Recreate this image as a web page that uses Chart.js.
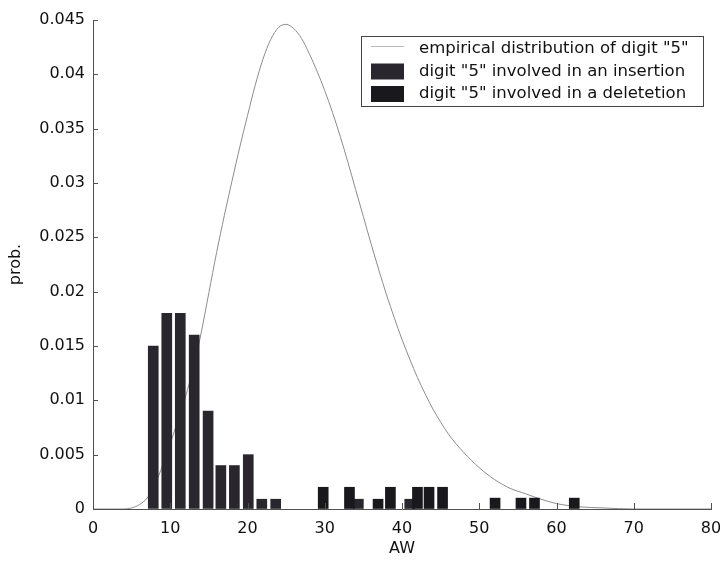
<!DOCTYPE html>
<html>
<head>
<meta charset="utf-8">
<title>AW distribution of digit "5"</title>
<script src="https://cdn.jsdelivr.net/npm/chart.js@4.4.1/dist/chart.umd.min.js"></script>
<style>
  html, body { margin: 0; padding: 0; background: #fff; }
  #wrap { width: 720px; height: 561px; position: relative; }
</style>
</head>
<body>
<div id="wrap"><canvas id="awChart"></canvas></div>
<script>
// Empirical distribution of digit "5" (AW value -> probability)
const curveX = [0, 2, 4, 5, 6, 7, 8, 9, 10, 11, 12, 13, 14, 15, 16, 17, 18, 19, 20,
  21, 22, 23, 24, 25, 26, 27, 28, 29, 30, 31, 32, 33, 34, 35, 36, 37, 38, 39, 40,
  41, 42, 43, 44, 45, 46, 47, 48, 50, 52, 54, 56, 58, 60, 63, 66, 70, 75, 80];
const curveY = [0, 0, 0, 0.0001, 0.0004, 0.001, 0.0022, 0.004, 0.006, 0.0082, 0.0104,
  0.013, 0.0162, 0.0199, 0.0236, 0.027, 0.0302, 0.0333, 0.0362, 0.039, 0.0414,
  0.0432, 0.0443, 0.0446, 0.0442, 0.0433, 0.0419, 0.0403, 0.0385, 0.0365, 0.0343,
  0.0319, 0.0294, 0.0269, 0.0244, 0.022, 0.0197, 0.0176, 0.0156, 0.0138, 0.0121,
  0.0106, 0.0092, 0.008, 0.0069, 0.006, 0.0052, 0.0038, 0.0027, 0.0019, 0.0014,
  0.0009, 0.0005, 0.0002, 0.0001, 0, 0, 0];

// Digit "5" involved in an insertion
const insertionX = [7.8, 9.55, 11.3, 13.1, 14.9, 16.55, 18.3, 20.1, 21.85, 23.65, 34.35, 41.0];
const insertionY = [0.015, 0.018, 0.018, 0.016, 0.009, 0.004, 0.004, 0.005, 0.0009, 0.0009, 0.0009, 0.0009];

// Digit "5" involved in a deletion
const deletionX = [29.8, 33.2, 36.9, 38.5, 42.0, 43.5, 45.25, 52.05, 55.4, 57.15, 62.3];
const deletionY = [0.002, 0.002, 0.0009, 0.002, 0.002, 0.002, 0.002, 0.001, 0.001, 0.001, 0.001];

// Axis ticks
const xTicks = [0, 10, 20, 30, 40, 50, 60, 70, 80];
const yTicks = [0, 0.005, 0.01, 0.015, 0.02, 0.025, 0.03, 0.035, 0.04, 0.045];

const labelFont = { family: "'DejaVu Sans', sans-serif", size: 16 };
const textColor = "#111";
const axisColor = "#505050";

function toPoints(xs, ys) {
  return xs.map((x, i) => ({ x: x, y: ys[i] }));
}

// Small tick marks pointing into the plot (MATLAB style)
const inwardTicks = {
  id: "inwardTicks",
  afterDatasetsDraw(chart) {
    const { ctx, chartArea, scales } = chart;
    ctx.save();
    ctx.strokeStyle = axisColor;
    ctx.lineWidth = 1;
    ctx.beginPath();
    scales.x.ticks.forEach((t) => {
      const px = Math.round(scales.x.getPixelForValue(t.value)) + 0.5;
      ctx.moveTo(px, chartArea.bottom);
      ctx.lineTo(px, chartArea.bottom - 6);
    });
    scales.y.ticks.forEach((t) => {
      const py = Math.round(scales.y.getPixelForValue(t.value)) + 0.5;
      ctx.moveTo(chartArea.left, py);
      ctx.lineTo(chartArea.left + 5, py);
    });
    ctx.stroke();
    ctx.restore();
  },
};

// Boxed legend in the upper right corner
const boxLegend = {
  id: "boxLegend",
  afterDraw(chart) {
    const { ctx, chartArea } = chart;
    const sets = chart.data.datasets;
    const w = 342, h = 70;
    const left = chartArea.right - 8 - w;
    const top = chartArea.top + 16;
    ctx.save();
    ctx.fillStyle = "#fff";
    ctx.fillRect(left, top, w, h);
    ctx.strokeStyle = "#444";
    ctx.lineWidth = 1;
    ctx.strokeRect(left + 0.5, top + 0.5, w, h);
    ctx.font = "16.5px 'DejaVu Sans', sans-serif";
    ctx.textBaseline = "middle";
    sets.forEach((ds, i) => {
      const cy = top + 13 + i * 22.5;
      if (ds.type === "line") {
        ctx.strokeStyle = "#b8b8b8";
        ctx.beginPath();
        ctx.moveTo(left + 10, cy - 2.5);
        ctx.lineTo(left + 43, cy - 2.5);
        ctx.stroke();
      } else {
        ctx.fillStyle = ds.backgroundColor;
        ctx.fillRect(left + 10, cy - 8, 33, 16);
      }
      ctx.fillStyle = textColor;
      ctx.fillText(ds.label, left + 58, cy);
    });
    ctx.restore();
  },
};

const ctx = document.getElementById("awChart").getContext("2d");

new Chart(ctx, {
  type: "bar",
  data: {
    datasets: [
      {
        type: "line",
        label: 'empirical distribution of digit "5"',
        data: toPoints(curveX, curveY),
        borderColor: "#8c8c8c",
        borderWidth: 1,
        pointRadius: 0,
        cubicInterpolationMode: "monotone",
        order: 3,
      },
      {
        label: 'digit "5" involved in an insertion',
        data: toPoints(insertionX, insertionY),
        backgroundColor: "#29272d",
        barThickness: 10,
        grouped: false,
        order: 2,
      },
      {
        label: 'digit "5" involved in a deletetion',
        data: toPoints(deletionX, deletionY),
        backgroundColor: "#19181c",
        barThickness: 10,
        grouped: false,
        order: 1,
      },
    ],
  },
  options: {
    responsive: true,
    maintainAspectRatio: false,
    animation: false,
    layout: { padding: { top: 20, right: 0, bottom: 1, left: 0 } },
    plugins: {
      legend: { display: false },
      tooltip: { enabled: false },
    },
    scales: {
      x: {
        type: "linear",
        min: 0,
        max: 80,
        offset: false,
        afterBuildTicks: (scale) => {
          scale.ticks = xTicks.map((v) => ({ value: v }));
        },
        afterFit: (scale) => {
          scale.height = 51;
          scale.paddingRight = 9;
        },
        ticks: {
          font: labelFont,
          color: textColor,
          padding: 10,
          maxRotation: 0,
          callback: (v) => String(v),
        },
        grid: { drawOnChartArea: false, drawTicks: false },
        border: { display: true, color: axisColor, width: 1 },
        title: {
          display: true,
          text: "AW",
          font: labelFont,
          color: textColor,
          padding: { top: 0, bottom: 2 },
        },
      },
      y: {
        min: 0,
        max: 0.045,
        afterBuildTicks: (scale) => {
          scale.ticks = yTicks.map((v) => ({ value: v }));
        },
        afterFit: (scale) => {
          scale.width = 93;
        },
        ticks: {
          font: labelFont,
          color: textColor,
          padding: 8,
          callback: (v) => String(+v.toFixed(3)),
        },
        grid: { drawOnChartArea: false, drawTicks: false },
        border: { display: true, color: axisColor, width: 1 },
        title: {
          display: true,
          text: "prob.",
          font: labelFont,
          color: textColor,
          padding: { top: 6, bottom: 0 },
        },
      },
    },
  },
  plugins: [inwardTicks, boxLegend],
});
</script>
</body>
</html>
